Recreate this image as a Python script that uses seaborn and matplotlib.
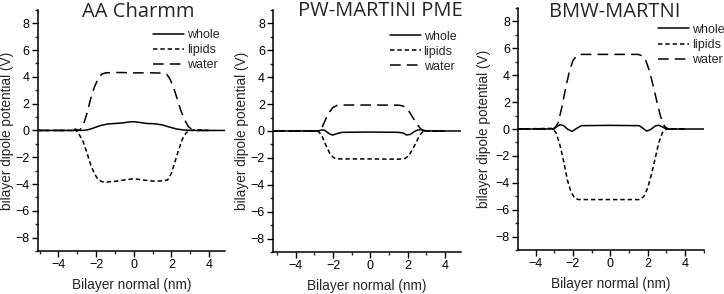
import matplotlib
matplotlib.use("Agg")
import matplotlib.pyplot as plt
from matplotlib.ticker import MultipleLocator
import pandas as pd
import seaborn as sns

# ==========================================
# DATA
# ==========================================
TITLES = ["AA Charmm", "PW-MARTINI PME", "BMW-MARTNI"]
SERIES = ["whole", "lipids", "water"]

# --- AA Charmm ---
aa_whole_x = [-5.1, -3.2, -3.05, -2.95, -2.8, -2.5, -2.2, -1.8, -1.4, -1.0, -0.6, -0.2, 0.0, 0.3, 0.7, 1.1, 1.5, 1.9, 2.3, 2.7, 3.1, 3.5, 4.85]
aa_whole_y = [0.0, 0.0, 0.08, 0.02, 0.0, 0.03, 0.15, 0.35, 0.48, 0.52, 0.56, 0.64, 0.65, 0.6, 0.52, 0.5, 0.42, 0.25, 0.1, 0.03, 0.0, 0.0, 0.0]
aa_lipids_x = [-5.1, -3.3, -3.1, -2.9, -2.7, -2.5, -2.3, -2.1, -1.9, -1.7, -1.5, -1.0, -0.5, 0.0, 0.5, 1.0, 1.5, 1.8, 2.0, 2.2, 2.4, 2.6, 2.8, 3.0, 3.3, 4.0]
aa_lipids_y = [0.0, 0.0, 0.1, -0.3, -0.8, -1.6, -2.5, -3.2, -3.65, -3.82, -3.86, -3.8, -3.7, -3.6, -3.7, -3.78, -3.77, -3.7, -3.2, -2.3, -1.4, -0.6, -0.15, 0.0, 0.05, 0.0]
aa_water_x = [-5.1, -2.9, -2.7, -2.5, -2.3, -2.1, -1.9, -1.7, -1.5, -1.0, -0.5, 0.0, 0.5, 1.0, 1.5, 1.75, 1.9, 2.1, 2.3, 2.5, 2.7, 2.9, 3.1, 3.4, 4.0]
aa_water_y = [0.0, 0.0, 0.3, 1.2, 2.3, 3.2, 3.85, 4.2, 4.3, 4.33, 4.32, 4.3, 4.3, 4.3, 4.28, 4.2, 3.9, 3.3, 2.4, 1.5, 0.8, 0.3, 0.05, 0.0, 0.0]

# --- PW-MARTINI PME ---
pw_whole_x = [-5.2, -2.8, -2.6, -2.45, -2.3, -2.15, -2.0, -1.8, -1.5, 0.0, 1.5, 1.75, 1.95, 2.15, 2.35, 2.55, 2.75, 3.0, 4.84]
pw_whole_y = [0.0, 0.0, 0.08, 0.05, -0.1, -0.25, -0.3, -0.2, -0.1, -0.08, -0.1, -0.15, -0.3, -0.25, -0.05, 0.08, 0.1, 0.0, 0.0]
pw_lipids_x = [-5.2, -2.8, -2.6, -2.4, -2.2, -2.0, -1.85, -1.5, 0.0, 1.5, 1.85, 2.05, 2.25, 2.45, 2.65, 2.85, 3.0, 4.0]
pw_lipids_y = [0.0, 0.0, -0.35, -1.0, -1.6, -1.95, -2.07, -2.08, -2.08, -2.1, -2.05, -1.85, -1.4, -0.85, -0.3, 0.0, 0.0, 0.0]
pw_water_x = [-5.2, -2.8, -2.6, -2.4, -2.2, -2.0, -1.8, -1.5, 0.0, 1.5, 1.7, 1.9, 2.1, 2.3, 2.5, 2.7, 2.85, 3.0, 4.0]
pw_water_y = [0.0, 0.0, 0.25, 0.85, 1.4, 1.75, 1.9, 1.93, 1.93, 1.92, 1.88, 1.75, 1.4, 0.95, 0.5, 0.15, 0.0, 0.0, 0.0]

# --- BMW-MARTNI ---
bmw_whole_x = [-4.93, -3.1, -2.9, -2.7, -2.5, -2.3, -2.05, -1.8, -1.55, 0.0, 1.55, 1.75, 1.95, 2.15, 2.4, 2.6, 2.8, 3.0, 5.02]
bmw_whole_y = [0.0, 0.0, 0.15, 0.32, 0.25, 0.0, -0.18, 0.05, 0.25, 0.27, 0.25, 0.05, -0.15, -0.05, 0.22, 0.28, 0.15, 0.0, 0.0]
bmw_lipids_x = [-4.93, -3.1, -2.9, -2.7, -2.5, -2.3, -2.1, -1.9, -1.7, 0.0, 1.6, 1.8, 2.0, 2.2, 2.4, 2.6, 2.8, 3.0, 4.0]
bmw_lipids_y = [0.0, 0.05, -0.3, -1.2, -2.4, -3.8, -4.7, -5.15, -5.25, -5.25, -5.25, -5.0, -4.4, -3.4, -2.2, -1.0, -0.25, 0.0, 0.0]
bmw_water_x = [-4.93, -3.0, -2.8, -2.6, -2.4, -2.2, -2.0, -1.8, -1.55, 0.0, 1.5, 1.7, 1.9, 2.1, 2.3, 2.5, 2.7, 2.9, 3.1, 4.0]
bmw_water_y = [0.0, 0.0, 0.45, 1.6, 3.0, 4.25, 5.1, 5.45, 5.55, 5.55, 5.55, 5.45, 5.1, 4.3, 3.2, 2.0, 0.9, 0.2, 0.0, 0.0]

PANELS = [
    {"whole": (aa_whole_x, aa_whole_y), "lipids": (aa_lipids_x, aa_lipids_y), "water": (aa_water_x, aa_water_y)},
    {"whole": (pw_whole_x, pw_whole_y), "lipids": (pw_lipids_x, pw_lipids_y), "water": (pw_water_x, pw_water_y)},
    {"whole": (bmw_whole_x, bmw_whole_y), "lipids": (bmw_lipids_x, bmw_lipids_y), "water": (bmw_water_x, bmw_water_y)},
]

XLIMS = [(-5.1, 4.85), (-5.2, 4.84), (-4.93, 5.02)]
# axes rectangles in figure fraction [left, bottom, width, height]
RECTS = [[0.0521, 0.1463, 0.2587, 0.820],
         [0.3775, 0.1430, 0.2588, 0.823],
         [0.7159, 0.1497, 0.2565, 0.823]]
LEG_ANCHOR = [(0.615, 0.92), (0.622, 0.915), (0.752, 0.935)]
TITLE_X = [0.535, 0.57, 0.52]
TITLE_Y = [0.970, 0.975, 0.962]
YLABEL_X = [-0.127, -0.130, -0.147]


def main():
    sns.set_theme(style="ticks")
    plt.rcParams["font.family"] = ["Liberation Sans", "DejaVu Sans"]
    plt.rcParams["axes.linewidth"] = 1.1

    fig = plt.figure(figsize=(7.24, 2.94), dpi=100)
    dashes = {"whole": "", "lipids": (2.9, 1.9), "water": (7.0, 4.0)}

    for i, panel in enumerate(PANELS):
        ax = fig.add_axes(RECTS[i])
        rows = []
        for name in SERIES:
            xs, ys = panel[name]
            for x, y in zip(xs, ys):
                rows.append({"x": x, "y": y, "series": name})
        df = pd.DataFrame(rows)

        sns.lineplot(data=df, x="x", y="y", style="series", style_order=SERIES,
                     dashes=dashes, color="black", linewidth=1.1, sort=True,
                     estimator=None, ax=ax)

        ax.set_xlim(*XLIMS[i])
        ax.set_ylim(-9, 9)
        ax.xaxis.set_major_locator(MultipleLocator(2))
        ax.xaxis.set_minor_locator(MultipleLocator(1))
        ax.yaxis.set_major_locator(MultipleLocator(2))
        ax.yaxis.set_minor_locator(MultipleLocator(1))
        ax.tick_params(which="major", direction="out", length=4, width=1.0,
                       labelsize=9, pad=2, colors="black")
        ax.tick_params(which="minor", direction="out", length=2.5, width=1.0)
        sns.despine(ax=ax)
        for s in ["left", "bottom"]:
            ax.spines[s].set_color("black")

        ax.set_xlabel("Bilayer normal (nm)", fontsize=9.8, labelpad=5)
        ax.set_ylabel("bilayer dipole potential (V)", fontsize=9.8)
        ax.yaxis.set_label_coords(YLABEL_X[i], 0.5)

        ax.text(TITLE_X[i], TITLE_Y[i], TITLES[i], transform=ax.transAxes,
                ha="center", va="baseline", fontsize=14.5,
                family=["Open Sans", "DejaVu Sans"])

        handles, labels = ax.get_legend_handles_labels()
        ax.legend(handles, labels, loc="upper left", bbox_to_anchor=LEG_ANCHOR[i],
                  frameon=False, fontsize=9, handlelength=2.5, handletextpad=0.2,
                  labelspacing=0.25, borderpad=0, borderaxespad=0)

    fig.savefig("out.png", dpi=100)


if __name__ == "__main__":
    main()
